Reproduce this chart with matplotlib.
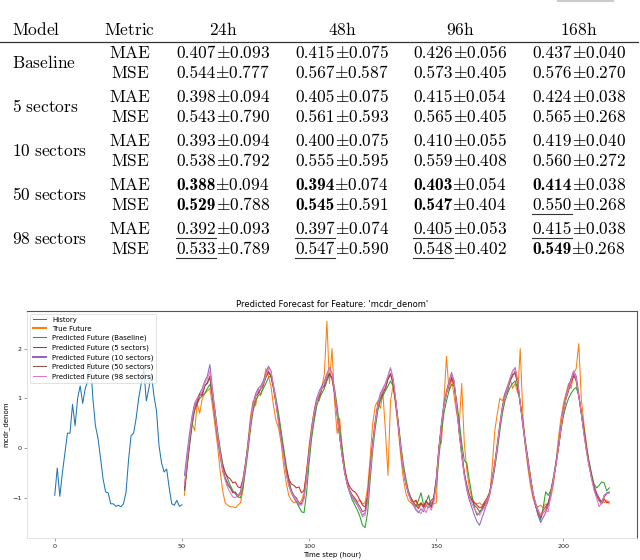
import matplotlib
matplotlib.use('Agg')
import matplotlib.pyplot as plt

plt.rcParams['mathtext.fontset'] = 'cm'

# ---- table data ----
models = ['Baseline', '5 sectors', '10 sectors', '50 sectors', '98 sectors']
metrics = ['MAE', 'MSE']
horizons = ['24h', '48h', '96h', '168h']

mae_mean = [[0.407, 0.415, 0.426, 0.437],
            [0.398, 0.405, 0.415, 0.424],
            [0.393, 0.400, 0.410, 0.419],
            [0.388, 0.394, 0.403, 0.414],
            [0.392, 0.397, 0.405, 0.415]]
mae_std = [[0.093, 0.075, 0.056, 0.040],
           [0.094, 0.075, 0.054, 0.038],
           [0.094, 0.075, 0.055, 0.040],
           [0.094, 0.074, 0.054, 0.038],
           [0.093, 0.074, 0.053, 0.038]]
mse_mean = [[0.544, 0.567, 0.573, 0.576],
            [0.543, 0.561, 0.565, 0.565],
            [0.538, 0.555, 0.559, 0.560],
            [0.529, 0.545, 0.547, 0.550],
            [0.533, 0.547, 0.548, 0.549]]
mse_std = [[0.777, 0.587, 0.405, 0.270],
           [0.790, 0.593, 0.405, 0.268],
           [0.792, 0.595, 0.408, 0.272],
           [0.788, 0.591, 0.404, 0.268],
           [0.789, 0.590, 0.402, 0.268]]

# ---- forecast data ----
hist_t = list(range(0, 51))
history = [-0.95, -0.40, -0.97, -0.50, -0.10, 0.30, 0.30, 0.88, 0.45, 1.00, 1.25, 0.90,
           1.20, 1.35, 1.75, 1.00, 0.45, 0.20, -0.20, -0.62, -0.88, -0.90, -1.12, -1.12,
           -1.17, -1.15, -1.18, -1.12, -0.90, -0.25, 0.25, 0.30, 0.60, 1.00, 1.30, 1.60,
           0.95, 1.20, 1.50, 1.05, 0.75, 0.05, -0.30, -0.48, -0.42, -0.80, -1.12, -1.15,
           -1.05, -1.17, -1.14]

fut_t = list(range(51, 219))
true_future = [
    -0.95, -0.40, 0.10, 0.50, 0.35, 0.90, 0.70, 1.00, 1.10, 1.15, 1.20, 0.85,
    0.45, 0.05, -0.45, -0.85, -1.10, -1.15, -1.18, -1.18, -1.20, -1.15, -1.10, -0.85,
    -0.35, 0.15, 0.65, 0.95, 0.85, 1.20, 1.05, 1.30, 1.60, 1.45, 1.25, 0.85,
    0.55, 0.40, 0.10, -0.35, -0.70, -0.95, -1.05, -1.10, -1.08, -1.12, -1.05, -0.90,
    -0.45, 0.05, 0.45, 0.75, 1.00, 0.95, 1.20, 1.50, 2.55, 1.30, 2.00, 0.95,
    0.30, 0.60, 0.00, -0.40, -0.70, -0.88, -0.95, -1.00, -1.08, -1.05, -1.12, -1.10,
    -0.80, -0.20, 0.50, 0.85, 0.95, 0.80, 1.10, 0.35, -0.55, 0.95, 1.25, 0.85,
    0.40, -0.15, -0.60, -0.90, -1.05, -1.10, -1.15, -1.05, -1.20, -1.10, -1.18, -1.12,
    -1.15, -1.10, -1.12, -1.10, 0.05, 0.10, 0.95, 1.85, 1.15, 1.40, 1.05, 0.70,
    0.45, 1.30, 0.10, -0.45, -0.80, -1.00, -1.10, -1.12, -1.10, -1.15, -1.10, -1.12,
    -0.95, -0.35, 0.35, 0.70, 1.00, 0.95, 1.10, 1.20, 1.40, 1.20, 1.30, 1.10,
    2.00, 0.70, 0.05, -0.40, -0.75, -1.00, -1.15, -1.18, -1.15, -1.20, -1.12, -1.15,
    -1.00, -0.75, -0.30, 0.20, 0.60, 0.90, 1.10, 1.30, 1.20, 1.50, 1.60, 2.10,
    1.00, 0.50, 0.10, -0.30, -0.55, -0.80, -0.95, -1.05, -1.05, -1.10, -1.05, -1.12]

pred_baseline = [
    -0.85, -0.40, 0.05, 0.45, 0.75, 0.90, 1.00, 1.05, 1.10, 1.20, 1.28, 1.10,
    0.75, 0.35, 0.00, -0.30, -0.50, -0.62, -0.75, -0.85, -0.92, -0.98, -1.00, -0.80,
    -0.45, -0.05, 0.40, 0.75, 0.95, 1.05, 1.10, 1.20, 1.30, 1.42, 1.45, 1.25,
    1.00, 0.70, 0.35, 0.00, -0.35, -0.62, -0.85, -0.98, -1.08, -1.18, -1.28, -1.30,
    -0.90, -0.30, 0.20, 0.55, 0.85, 1.00, 1.10, 1.20, 1.35, 1.48, 1.42, 1.20,
    0.85, 0.40, 0.00, -0.40, -0.70, -0.90, -1.05, -1.15, -1.25, -1.38, -1.55, -1.60,
    -1.30, -0.65, -0.05, 0.40, 0.75, 0.95, 1.05, 1.15, 1.25, 1.35, 1.25, 0.95,
    0.55, 0.10, -0.30, -0.60, -0.85, -1.00, -1.12, -1.18, -1.05, -0.90, -1.15, -1.08,
    -0.95, -1.20, -1.05, -0.75, -0.20, 0.30, 0.70, 0.95, 1.15, 1.28, 1.25, 0.95,
    0.55, 0.10, -0.25, -0.30, -0.65, -0.95, -1.20, -1.35, -1.30, -1.20, -1.15, -1.05,
    -0.92, -0.70, -0.40, -0.05, 0.35, 0.70, 0.95, 1.10, 1.22, 1.30, 1.35, 1.20,
    0.90, 0.55, 0.15, -0.20, -0.55, -0.90, -1.15, -1.35, -1.45, -1.20, -0.88, -0.95,
    -0.85, -0.60, -0.30, 0.00, 0.35, 0.65, 0.85, 1.00, 1.10, 1.18, 1.22, 1.05,
    0.75, 0.40, 0.05, -0.25, -0.50, -0.72, -0.80, -0.75, -0.68, -0.70, -0.86, -0.80]

pred_5 = [
    -0.80, -0.30, 0.15, 0.55, 0.80, 0.90, 1.05, 1.10, 1.25, 1.32, 1.45, 1.10,
    0.70, 0.25, -0.10, -0.35, -0.50, -0.58, -0.62, -0.70, -0.68, -0.78, -0.80, -0.62,
    -0.30, 0.05, 0.50, 0.85, 1.05, 1.10, 1.20, 1.30, 1.42, 1.52, 1.45, 1.20,
    0.90, 0.55, 0.20, -0.10, -0.40, -0.62, -0.72, -0.75, -0.80, -0.78, -0.90, -0.85,
    -0.50, -0.05, 0.35, 0.70, 0.95, 1.05, 1.20, 1.25, 1.40, 1.50, 1.40, 1.10,
    0.70, 0.25, -0.15, -0.45, -0.65, -0.78, -0.85, -0.88, -0.95, -1.05, -1.15, -1.18,
    -0.95, -0.40, 0.10, 0.50, 0.85, 1.00, 1.10, 1.20, 1.38, 1.48, 1.30, 0.95,
    0.50, 0.00, -0.40, -0.70, -0.88, -1.00, -1.08, -1.05, -1.15, -1.10, -1.20, -1.08,
    -1.12, -1.18, -1.00, -0.60, 0.00, 0.45, 0.85, 1.10, 1.28, 1.40, 1.28, 0.85,
    0.35, -0.10, -0.50, -0.75, -0.95, -1.05, -1.10, -1.15, -1.20, -1.18, -1.08, -1.00,
    -0.88, -0.62, -0.30, 0.05, 0.45, 0.80, 1.05, 1.20, 1.35, 1.48, 1.50, 1.28,
    0.90, 0.50, 0.10, -0.25, -0.60, -0.92, -1.15, -1.30, -1.40, -1.30, -1.25, -1.10,
    -0.90, -0.65, -0.35, 0.00, 0.40, 0.75, 1.00, 1.18, 1.32, 1.45, 1.38, 1.05,
    0.70, 0.35, 0.00, -0.30, -0.58, -0.80, -0.95, -1.05, -1.12, -1.02, -1.10, -1.08]

pred_10 = [
    -0.55, -0.10, 0.30, 0.65, 0.90, 1.00, 1.10, 1.20, 1.35, 1.45, 1.68, 1.20,
    0.75, 0.30, -0.05, -0.40, -0.60, -0.70, -0.80, -0.88, -0.90, -0.95, -0.88, -0.65,
    -0.30, 0.10, 0.55, 0.90, 1.10, 1.20, 1.25, 1.35, 1.50, 1.65, 1.55, 1.25,
    0.95, 0.55, 0.20, -0.15, -0.50, -0.75, -0.90, -1.00, -1.08, -1.15, -1.12, -0.98,
    -0.55, -0.05, 0.40, 0.75, 1.00, 1.15, 1.25, 1.35, 1.50, 1.62, 1.50, 1.15,
    0.70, 0.25, -0.15, -0.50, -0.75, -0.90, -1.00, -1.08, -1.15, -1.25, -1.35, -1.30,
    -1.05, -0.45, 0.10, 0.55, 0.90, 1.10, 1.20, 1.30, 1.45, 1.60, 1.40, 1.00,
    0.50, 0.00, -0.40, -0.72, -0.92, -1.05, -1.15, -1.25, -1.30, -1.22, -1.28, -1.15,
    -1.20, -1.10, -1.05, -0.65, -0.05, 0.50, 0.90, 1.15, 1.35, 1.52, 1.35, 0.85,
    0.30, -0.15, -0.55, -0.85, -1.05, -1.20, -1.35, -1.48, -1.55, -1.40, -1.25, -1.10,
    -0.90, -0.60, -0.30, 0.10, 0.50, 0.85, 1.10, 1.25, 1.40, 1.55, 1.62, 1.35,
    0.90, 0.45, 0.05, -0.30, -0.65, -0.95, -1.15, -1.35, -1.50, -1.40, -1.30, -1.15,
    -0.90, -0.60, -0.30, 0.05, 0.45, 0.80, 1.05, 1.25, 1.40, 1.55, 1.45, 1.10,
    0.70, 0.30, -0.05, -0.35, -0.60, -0.80, -0.95, -1.05, -1.12, -0.95, -0.90, -0.88]

pred_50 = [
    -0.85, -0.35, 0.10, 0.55, 0.85, 0.95, 1.10, 1.05, 1.25, 1.30, 1.42, 1.00,
    0.60, 0.20, -0.15, -0.45, -0.60, -0.75, -0.80, -0.90, -0.88, -0.98, -0.92, -0.72,
    -0.35, 0.05, 0.50, 0.80, 1.05, 1.10, 1.20, 1.25, 1.45, 1.55, 1.45, 1.20,
    0.90, 0.55, 0.20, -0.10, -0.45, -0.70, -0.85, -0.95, -1.00, -1.10, -1.12, -1.00,
    -0.60, -0.10, 0.35, 0.65, 0.95, 1.05, 1.20, 1.25, 1.45, 1.50, 1.40, 1.10,
    0.70, 0.25, -0.15, -0.50, -0.70, -0.85, -0.95, -1.02, -1.10, -1.18, -1.28, -1.25,
    -1.00, -0.45, 0.10, 0.50, 0.85, 1.00, 1.15, 1.20, 1.40, 1.50, 1.30, 0.95,
    0.50, 0.00, -0.40, -0.70, -0.90, -1.00, -1.10, -1.15, -1.22, -1.12, -1.18, -1.05,
    -1.15, -1.05, -1.00, -0.65, -0.05, 0.45, 0.85, 1.10, 1.30, 1.45, 1.30, 0.85,
    0.35, -0.10, -0.50, -0.75, -0.95, -1.05, -1.15, -1.20, -1.28, -1.25, -1.12, -1.05,
    -0.90, -0.65, -0.35, 0.05, 0.45, 0.80, 1.05, 1.15, 1.35, 1.45, 1.55, 1.30,
    0.90, 0.50, 0.10, -0.25, -0.60, -0.90, -1.10, -1.25, -1.35, -1.25, -1.18, -1.10,
    -0.90, -0.65, -0.35, 0.00, 0.40, 0.75, 1.00, 1.15, 1.35, 1.50, 1.35, 1.05,
    0.70, 0.35, 0.00, -0.30, -0.55, -0.75, -0.90, -1.00, -1.10, -0.98, -0.92, -0.90]

pred_98 = [
    -0.75, -0.25, 0.20, 0.60, 0.85, 1.00, 1.05, 1.15, 1.30, 1.40, 1.55, 1.15,
    0.70, 0.25, -0.10, -0.45, -0.65, -0.80, -0.90, -0.98, -1.00, -0.95, -0.92, -0.70,
    -0.35, 0.05, 0.50, 0.85, 1.05, 1.15, 1.20, 1.30, 1.45, 1.60, 1.55, 1.25,
    0.90, 0.50, 0.15, -0.15, -0.50, -0.75, -0.88, -0.98, -1.05, -1.12, -1.15, -1.02,
    -0.60, -0.10, 0.35, 0.70, 0.95, 1.10, 1.20, 1.30, 1.45, 1.60, 1.50, 1.15,
    0.70, 0.25, -0.15, -0.50, -0.72, -0.88, -0.98, -1.05, -1.15, -1.25, -1.38, -1.35,
    -1.10, -0.50, 0.05, 0.50, 0.85, 1.05, 1.15, 1.30, 1.45, 1.62, 1.40, 1.00,
    0.50, 0.00, -0.40, -0.70, -0.90, -1.05, -1.12, -1.22, -1.28, -1.32, -1.20, -1.30,
    -1.15, -1.25, -1.10, -0.70, -0.05, 0.45, 0.85, 1.10, 1.30, 1.48, 1.35, 0.85,
    0.30, -0.15, -0.55, -0.80, -1.00, -1.12, -1.22, -1.30, -1.35, -1.25, -1.20, -1.05,
    -0.92, -0.65, -0.35, 0.05, 0.45, 0.80, 1.05, 1.20, 1.40, 1.55, 1.60, 1.35,
    0.90, 0.50, 0.10, -0.25, -0.60, -0.90, -1.10, -1.25, -1.35, -1.30, -1.25, -1.28,
    -0.95, -0.65, -0.35, 0.00, 0.40, 0.75, 1.00, 1.20, 1.35, 1.55, 1.40, 1.05,
    0.70, 0.30, -0.05, -0.35, -0.60, -0.85, -1.00, -1.18, -1.10, -0.95, -0.92, -0.90]

pred_labels = ['Predicted Future (Baseline)', 'Predicted Future (5 sectors)',
               'Predicted Future (10 sectors)', 'Predicted Future (50 sectors)',
               'Predicted Future (98 sectors)']
pred_series = [pred_baseline, pred_5, pred_10, pred_50, pred_98]
pred_colors = ['#2ca02c', '#d62728', '#9467bd', '#8c564b', '#e377c2']

fig = plt.figure(figsize=(6.4, 5.6), dpi=100)
rend = fig.canvas.get_renderer()

# ---- table, drawn in pixel coordinates ----
tab = fig.add_axes([0, 0, 1, 1])
tab.set_xlim(0, 640)
tab.set_ylim(560, 0)
tab.axis('off')

FS = 12.5
model_x = 12
metric_x = 130
col_x = [223, 342, 460, 579]
header_base = 35
row_base = [[58, 78], [102, 122], [146, 166], [190, 210], [234, 254]]


def m(s):
    return '$\\mathrm{' + s.replace(' ', '\\ ') + '}$'


def cell(x, yb, num, sd, bold):
    # number in cmr10 / cmb10, then "±std" in math mode, centred as a whole
    t1 = tab.text(0, yb, num, fontsize=FS, va='baseline',
                  fontfamily='cmb10' if bold else 'cmr10')
    t2 = tab.text(0, yb, '${\\pm}' + sd + '$', fontsize=FS, va='baseline')
    w1 = t1.get_window_extent(rend).width
    w2 = t2.get_window_extent(rend).width
    x0 = x - (w1 + w2) / 2
    t1.set_x(x0)
    t2.set_x(x0 + w1)
    return x0, w1


tab.text(model_x, header_base, m('Model'), fontsize=FS, ha='left', va='baseline')
tab.text(metric_x, header_base, m('Metric'), fontsize=FS, ha='center', va='baseline')
for hx, h in zip(col_x, horizons):
    tab.text(hx, header_base, m(h), fontsize=FS, ha='center', va='baseline')
tab.plot([0, 638], [41.5, 41.5], color='#333333', lw=0.9)
tab.plot([558, 613], [1, 1], color='#cccccc', lw=1.5)

means = {'MAE': mae_mean, 'MSE': mse_mean}
stds = {'MAE': mae_std, 'MSE': mse_std}
for i, model in enumerate(models):
    tab.text(model_x, (row_base[i][0] + row_base[i][1]) / 2, m(model),
             fontsize=FS, ha='left', va='baseline')
    for k, met in enumerate(metrics):
        yb = row_base[i][k]
        tab.text(metric_x, yb, m(met), fontsize=FS, ha='center', va='baseline')
        for j in range(len(horizons)):
            col = sorted(r[j] for r in means[met])
            v = means[met][i][j]
            x0, w = cell(col_x[j], yb, f'{v:.3f}', f'{stds[met][i][j]:.3f}', v == col[0])
            if v == col[1]:
                tab.plot([x0, x0 + w], [yb + 4, yb + 4], color='#333333', lw=0.8)

# ---- forecast chart ----
LW = 0.75
ax = fig.add_axes([0.0422, 0.0393, 0.9531, 0.4054])
ax.plot(hist_t, history, color='#1f77b4', lw=LW, label='History')
ax.plot(fut_t, true_future, color='#ff7f0e', lw=LW, label='True Future')
for lab, ser, c in zip(pred_labels, pred_series, pred_colors):
    ax.plot(fut_t, ser, color=c, lw=LW, label=lab)

ax.set_title("Predicted Forecast for Feature: 'mcdr_denom'", fontsize=6, pad=3.5)
ax.set_xlabel('Time step (hour)', fontsize=5, labelpad=2)
ax.set_ylabel('mcdr_denom', fontsize=5, labelpad=2)
ax.set_yticks([-1, 0, 1, 2])
ax.tick_params(labelsize=4.6, length=2, width=0.5, color='#777777',
               labelcolor='#222222', pad=2)
for side in ['top', 'right']:
    ax.spines[side].set_color('#555555')
    ax.spines[side].set_linewidth(0.8)
for side in ['left', 'bottom']:
    ax.spines[side].set_color('#dddddd')
    ax.spines[side].set_linewidth(0.6)

leg = ax.legend(loc='upper left', fontsize=5.0, labelspacing=0.45,
                borderaxespad=0.4, frameon=True)
leg.get_frame().set_linewidth(0.5)
leg_lines = leg.get_lines()
leg_lines[1].set_linewidth(1.5)
leg_lines[4].set_linewidth(1.5)

fig.savefig('out.png', dpi=100)
